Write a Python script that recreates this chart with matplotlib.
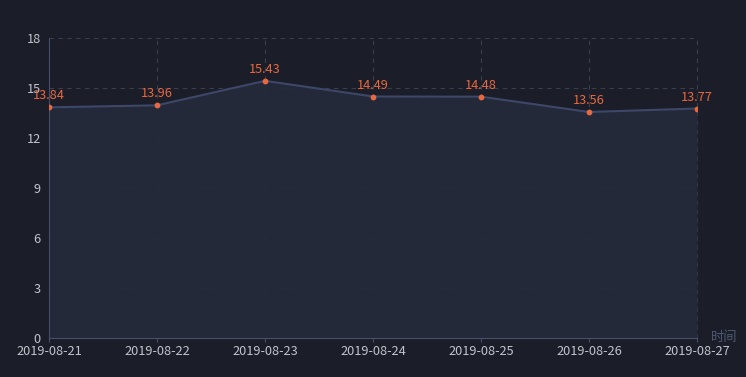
import matplotlib.pyplot as plt

plt.rcParams['font.family'] = ['Noto Sans CJK SC', 'DejaVu Sans']

dates = ['2019-08-21', '2019-08-22', '2019-08-23', '2019-08-24',
         '2019-08-25', '2019-08-26', '2019-08-27']
values = [13.84, 13.96, 15.43, 14.49, 14.48, 13.56, 13.77]
yticks = [0, 3, 6, 9, 12, 15, 18]

bg = '#1b1e28'
fig = plt.figure(figsize=(7.46, 3.77), dpi=100, facecolor=bg)
ax = fig.add_axes([49 / 746, 1 - 338 / 377, 648 / 746, 300 / 377])
ax.set_facecolor(bg)

x = list(range(len(dates)))
ax.fill_between(x, values, 0, color='#252a3b', alpha=0.92, zorder=2, lw=0)
ax.plot(x, values, color='#3d4768', lw=1.5, zorder=3)
ax.scatter(x, values, s=10, color='#e8683f', zorder=4)
for xi, v in zip(x, values):
    ax.text(xi, v + 0.3, f'{v:.2f}', color='#e8683f', fontsize=9.2,
            ha='center', va='bottom', zorder=5)

ax.set_xlim(0, len(dates) - 1)
ax.set_ylim(0, 18)
ax.set_xticks(x)
ax.set_xticklabels(dates)
ax.set_yticks(yticks)

ax.grid(True, color='#3a3f4e', ls=(0, (4, 4)), lw=0.8, zorder=1)
ax.axvline(x[-1], color='#3a3f4e', ls=(0, (4, 4)), lw=0.8, zorder=1, clip_on=False)
ax.set_axisbelow(True)

for s in ['top', 'right']:
    ax.spines[s].set_visible(False)
for s in ['left', 'bottom']:
    ax.spines[s].set_color('#464e6b')
ax.tick_params(colors='#c0c4cc', labelsize=9.2, length=3, pad=2)
ax.tick_params(axis='x', color='#464e6b')
ax.tick_params(axis='y', length=0, pad=6)

ax.text(1.022, 0, '时间', transform=ax.transAxes, color='#4f5873',
        fontsize=9.5, ha='left', va='center')

fig.savefig('out.png', dpi=100, facecolor=bg)
